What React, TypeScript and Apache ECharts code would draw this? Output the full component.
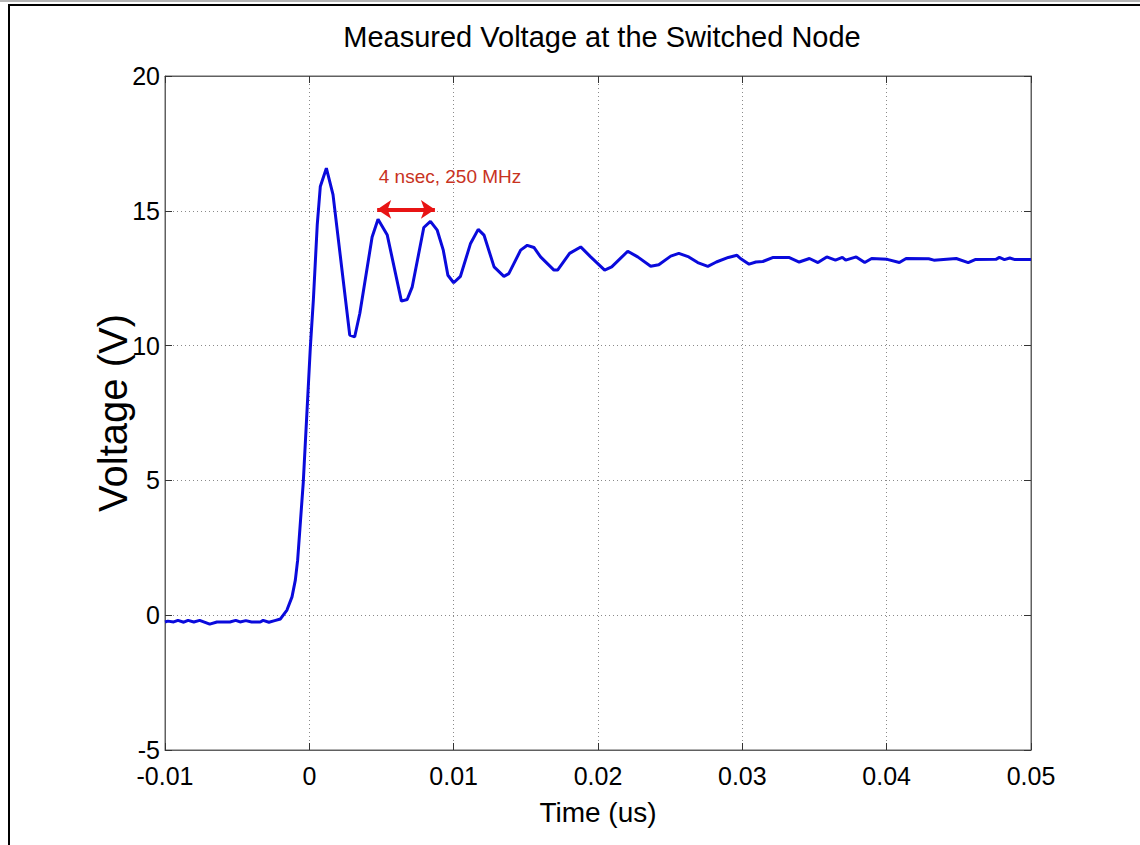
import React, { useEffect, useRef } from "react";
import * as echarts from "echarts";

// Time (us) and measured voltage (V)
const TIME_US = [
  -0.01, -0.0098, -0.0094, -0.0091, -0.0087, -0.0084, -0.008, -0.0076, -0.0069, -0.0064,
  -0.0055, -0.0051, -0.0048, -0.0044, -0.004, -0.0034, -0.0032, -0.0028, -0.0024, -0.002,
  -0.00155, -0.0012, -0.00097, -0.00081, -0.00042, 0.00007, 0.00028, 0.00055, 0.00076, 0.00118,
  0.00164, 0.0028, 0.00314, 0.0035, 0.00435, 0.00476, 0.0054, 0.00638, 0.00678, 0.00713,
  0.00793, 0.00839, 0.00886, 0.00928, 0.0096, 0.01, 0.01047, 0.01117, 0.0117, 0.0121,
  0.0128, 0.01348, 0.01382, 0.01464, 0.0151, 0.01556, 0.01602, 0.01695, 0.0172, 0.01803,
  0.0188, 0.01949, 0.02046, 0.02095, 0.02206, 0.02275, 0.02365, 0.02421, 0.02504, 0.0256,
  0.02629, 0.02691, 0.02761, 0.0282, 0.02903, 0.02963, 0.02987, 0.03047, 0.03094, 0.03142,
  0.03214, 0.03322, 0.03394, 0.03465, 0.03524, 0.03585, 0.03645, 0.03693, 0.03716, 0.03789,
  0.03848, 0.03896, 0.04004, 0.04088, 0.04135, 0.04291, 0.04327, 0.04482, 0.04565, 0.04613,
  0.04757, 0.04781, 0.04816, 0.04853, 0.04889, 0.05,
];
const VOLTAGE_V = [
  -0.25, -0.22, -0.25, -0.19, -0.26, -0.19, -0.25, -0.19, -0.33, -0.25,
  -0.25, -0.19, -0.25, -0.2, -0.25, -0.25, -0.19, -0.26, -0.2, -0.14,
  0.19, 0.68, 1.3, 2.04, 4.93, 9.94, 11.7, 14.5, 15.9, 16.58,
  15.6, 10.39, 10.32, 11.2, 14.03, 14.69, 14.1, 11.65, 11.71, 12.18,
  14.38, 14.61, 14.28, 13.54, 12.61, 12.33, 12.57, 13.79, 14.31, 14.1,
  12.92, 12.57, 12.67, 13.54, 13.72, 13.64, 13.29, 12.8, 12.8, 13.42,
  13.66, 13.29, 12.8, 12.92, 13.5, 13.29, 12.94, 13.0, 13.32, 13.42,
  13.29, 13.08, 12.94, 13.1, 13.27, 13.35, 13.23, 13.02, 13.1, 13.12,
  13.27, 13.27, 13.1, 13.23, 13.08, 13.29, 13.17, 13.27, 13.17, 13.29,
  13.08, 13.23, 13.2, 13.08, 13.23, 13.22, 13.17, 13.23, 13.08, 13.19,
  13.2, 13.27, 13.19, 13.25, 13.19, 13.19,
];

// Axis ranges / ticks
const X_MIN = -0.01;
const X_MAX = 0.05;
const X_STEP = 0.01;
const Y_MIN = -5;
const Y_MAX = 20;
const Y_STEP = 5;

// Annotation: period arrow (us, V) and label
const PERIOD_START_US = 0.0047;
const PERIOD_END_US = 0.0087;
const PERIOD_LEVEL_V = 15.05;
const PERIOD_LABEL = "4 nsec, 250 MHz";

const TITLE = "Measured Voltage at the Switched Node";
const X_NAME = "Time (us)";
const Y_NAME = "Voltage (V)";

const FONT = "'Liberation Sans', Arial, Helvetica, sans-serif";

export default function App() {
  const ref = useRef<HTMLDivElement>(null);

  useEffect(() => {
    if (!ref.current) return;
    const chart = echarts.init(ref.current, null, { renderer: "svg" });
    const data = TIME_US.map((t, i) => [t, VOLTAGE_V[i]]);
    const fmtX = (v: number) => String(+v.toFixed(2));

    const tickCommon = {
      inside: true,
      length: 7,
      lineStyle: { color: "#333", width: 1 },
    };
    const lineCommon = { show: true, onZero: false, lineStyle: { color: "#606060", width: 1 } };
    const gridDots = { show: true, lineStyle: { color: "#8a8a8a", width: 1, type: [1, 3] } };

    chart.setOption({
      animation: false,
      backgroundColor: "#ffffff",
      title: {
        text: TITLE,
        left: 597,
        top: 17,
        textAlign: "center",
        textStyle: { fontFamily: FONT, fontSize: 29, fontWeight: "normal", color: "#000" },
      },
      grid: {
        left: 165,
        right: 109,
        top: 76,
        bottom: 95,
        show: true,
        borderColor: "#606060",
        borderWidth: 1,
        backgroundColor: "transparent",
      },
      xAxis: [
        {
          type: "value",
          min: X_MIN,
          max: X_MAX,
          interval: X_STEP,
          name: X_NAME,
          nameLocation: "middle",
          nameGap: 48,
          nameMoveOverlap: false,
          nameTextStyle: { fontFamily: FONT, fontSize: 28, color: "#000" },
          axisLine: lineCommon,
          axisTick: tickCommon,
          axisLabel: { fontFamily: FONT, fontSize: 25, color: "#000", margin: 13, formatter: fmtX },
          splitLine: gridDots,
        },
        {
          type: "value",
          position: "top",
          min: X_MIN,
          max: X_MAX,
          interval: X_STEP,
          axisLine: lineCommon,
          axisTick: tickCommon,
          axisLabel: { show: false },
          splitLine: { show: false },
        },
      ],
      yAxis: [
        {
          type: "value",
          min: Y_MIN,
          max: Y_MAX,
          interval: Y_STEP,
          name: Y_NAME,
          nameLocation: "middle",
          nameGap: 32,
          nameMoveOverlap: false,
          nameRotate: 90,
          nameTextStyle: { fontFamily: FONT, fontSize: 40, color: "#000" },
          axisLine: lineCommon,
          axisTick: tickCommon,
          axisLabel: { fontFamily: FONT, fontSize: 25, color: "#000", margin: 5 },
          splitLine: gridDots,
        },
        {
          type: "value",
          position: "right",
          min: Y_MIN,
          max: Y_MAX,
          interval: Y_STEP,
          axisLine: lineCommon,
          axisTick: tickCommon,
          axisLabel: { show: false },
          splitLine: { show: false },
        },
      ],
      series: [
        {
          type: "line",
          name: "Switched node voltage",
          xAxisIndex: 0,
          yAxisIndex: 0,
          data,
          showSymbol: false,
          symbol: "none",
          smooth: false,
          lineStyle: { color: "#0a0adc", width: 3 },
          z: 5,
          markLine: {
            silent: true,
            symbol: ["arrow", "arrow"],
            symbolSize: [14, 14],
            label: { show: false },
            lineStyle: { color: "#e81414", width: 4, type: "solid" },
            data: [
              [
                { coord: [PERIOD_START_US, PERIOD_LEVEL_V] },
                { coord: [PERIOD_END_US, PERIOD_LEVEL_V] },
              ],
            ],
          },
        },
      ],
      graphic: [
        { type: "rect", shape: { x: 0, y: 0, width: 1140, height: 2 }, style: { fill: "#b4b4b4" }, silent: true },
        { type: "rect", shape: { x: 8, y: 4, width: 1132, height: 2 }, style: { fill: "#000" }, silent: true },
        { type: "rect", shape: { x: 8, y: 4, width: 2, height: 841 }, style: { fill: "#000" }, silent: true },
        {
          type: "text",
          x: 450,
          y: 176,
          z: 10,
          style: {
            text: PERIOD_LABEL,
            fill: "#c8321e",
            fontFamily: FONT,
            fontSize: 19,
            align: "center",
            verticalAlign: "middle",
          },
        },
      ],
    });

    return () => chart.dispose();
  }, []);

  return (
    <div
      ref={ref}
      style={{ position: "fixed", left: 0, top: 0, width: 1140, height: 845, background: "#fff" }}
    />
  );
}
